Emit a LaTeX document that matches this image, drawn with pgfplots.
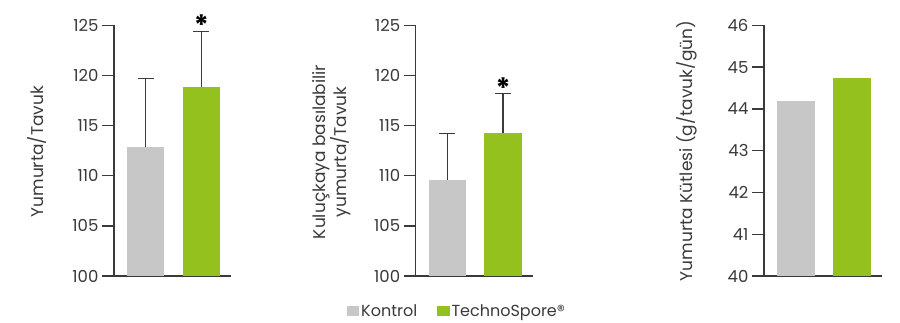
\documentclass[border=0pt]{standalone}
\usepackage{pgfplots}
\pgfplotsset{compat=1.18}
\usepackage{fontspec}
\setmainfont{Poppins}
\definecolor{txt}{HTML}{3A3A3A}
\definecolor{kontrol}{HTML}{C8C7C7}
\definecolor{techno}{HTML}{95C11F}
\pgfplotsset{
  panel/.style={
    scale only axis, width=117pt, height=250.7pt,
    axis lines=left, axis line style={-, line width=1.3pt, color=txt},
    xmin=0, xmax=117, xtick=\empty,
    ytick style={line width=1.3pt, color=txt},
    tick align=outside, major tick length=12pt,
    tick label style={font=\fontsize{16.5}{18}\selectfont, text=txt},
    /pgf/number format/assume math mode=true,
    label style={font=\fontsize{17}{20}\selectfont, text=txt},
    ybar, bar width=37.3, clip=false,
  },
  errs/.style={
    error bars/y dir=plus, error bars/y explicit,
    error bars/error mark=-,
    error bars/error bar style={line width=1.4pt, draw=txt, solid},
    error bars/error mark options={rotate=90, line width=1.4pt, mark size=8pt, draw=txt, solid},
  },
}
\begin{document}
\begin{tikzpicture}
\path[use as bounding box] (0pt,0pt) rectangle (900pt,-322pt);
% Panel 1
\begin{axis}[panel, errs, at={(114pt,-276pt)}, anchor=south west,
  ymin=100, ymax=125, ytick={100,105,...,125},
  ylabel={Yumurta/Tavuk},
  ylabel style={at={(axis description cs:-0.661,0.496)}, anchor=center}]
\addplot[fill=kontrol, draw=none, bar shift=0pt] coordinates {(31.7,112.9) +- (0,6.8)};
\addplot[fill=techno, draw=none, bar shift=0pt] coordinates {(87.3,118.8) +- (0,5.6)};
\node[font=\fontsize{28}{28}\selectfont\bfseries, text=black] at (axis cs:87.3,125.0) {*};
\end{axis}
% Panel 2
\begin{axis}[panel, errs, at={(415.7pt,-276pt)}, anchor=south west,
  ymin=100, ymax=125, ytick={100,105,...,125},
  ylabel={Kuluçkaya basılabilir\\yumurta/Tavuk},
  ylabel style={at={(axis description cs:-0.716,0.495)}, anchor=center, align=center},
  legend style={at={(axis description cs:0.353,-0.14)}, anchor=center, draw=none,
    font=\fontsize{16}{18}\selectfont, text=txt, legend columns=2,
    /tikz/column sep=0pt,
    /tikz/every even column/.append style={column sep=18pt},
    nodes={inner xsep=2pt}},
  legend image code/.code={\fill[#1] (0pt,-4.7pt) rectangle (12.3pt,4.7pt);}]
\addplot[fill=kontrol, draw=none, bar shift=0pt] coordinates {(31.7,109.6) +- (0,4.6)};
\addlegendentry{Kontrol}
\addplot[fill=techno, draw=none, bar shift=0pt] coordinates {(87.3,114.3) +- (0,3.9)};
\addlegendentry{TechnoSpore®}
\node[font=\fontsize{28}{28}\selectfont\bfseries, text=black] at (axis cs:87.3,118.7) {*};
\end{axis}
% Panel 3
\begin{axis}[panel, at={(764pt,-276pt)}, anchor=south west, width=117.7pt,
  ymin=40, ymax=46, ytick={40,41,...,46},
  ylabel={Yumurta Kütlesi (g/tavuk/gün)},
  ylabel style={at={(axis description cs:-0.657,0.499)}, anchor=center}]
\addplot[fill=kontrol, draw=none, bar shift=0pt] coordinates {(31.7,44.19)};
\addplot[fill=techno, draw=none, bar shift=0pt] coordinates {(87.3,44.73)};
\end{axis}
\end{tikzpicture}
\end{document}
